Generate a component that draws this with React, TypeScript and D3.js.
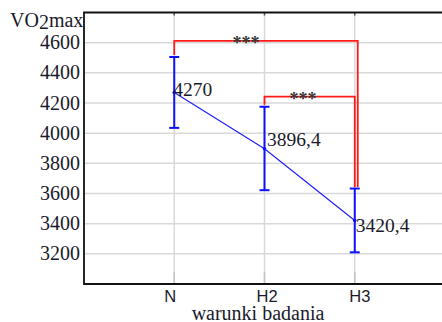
import * as d3 from "d3";
import { useEffect, useRef } from "react";

const categories = ["N", "H2", "H3"];
const means = [4270, 3896.4, 3420.4];
const errLow = [4035, 3622, 3210];
const errHigh = [4505, 4175, 3633];
const meanLabels = ["4270", "3896,4", "3420,4"];
const yTicks = [3200, 3400, 3600, 3800, 4000, 4200, 4400, 4600];
// significance brackets
const brackets = [
  { from: 0, to: 2, level: 4612, label: "***" },
  { from: 1, to: 2, level: 4242, label: "***" },
];

// layout nudges (pixels), not data
const labelDy = [3.5, -3, 11];
const labelDx = [-1, 2.5, 1];
const catDx = [-10, -8, -5.5];
const legOffset = [3, 0];
const starX = [246, 303];

export default function App() {
  const svgRef = useRef<SVGSVGElement>(null);
  const width = 442;
  const height = 322;

  useEffect(() => {
    if (!svgRef.current) return;
    const svg = d3.select(svgRef.current);
    svg.selectAll("*").remove();

    const left = 84;
    const right = 445;
    const top = 12.5;
    const bottom = 284;
    const serif = "'Liberation Serif', 'Times New Roman', serif";

    const x = d3.scaleLinear().domain([0, 4]).range([left, right]);
    const y = d3.scaleLinear().domain([3000, 4800]).range([bottom, top]);
    const xi = (i: number) => x(i + 1);

    const g = svg.append("g");

    // grid
    g.selectAll(".hgrid")
      .data(yTicks)
      .enter()
      .append("line")
      .attr("x1", left)
      .attr("x2", right)
      .attr("y1", (d) => y(d))
      .attr("y2", (d) => y(d))
      .style("stroke", "#d9d9d9")
      .style("stroke-width", 1.5);

    g.selectAll(".vgrid")
      .data(categories)
      .enter()
      .append("line")
      .attr("x1", (_, i) => xi(i))
      .attr("x2", (_, i) => xi(i))
      .attr("y1", top)
      .attr("y2", bottom)
      .style("stroke", "#d9d9d9")
      .style("stroke-width", 1.5);

    // small ticks at bottom
    g.selectAll(".btick")
      .data(categories)
      .enter()
      .append("line")
      .attr("x1", (_, i) => xi(i))
      .attr("x2", (_, i) => xi(i))
      .attr("y1", bottom - 12)
      .attr("y2", bottom)
      .style("stroke", "#c4c4c4")
      .style("stroke-width", 1.5);

    // top ticks
    g.selectAll(".ttick")
      .data(categories)
      .enter()
      .append("line")
      .attr("x1", (_, i) => xi(i))
      .attr("x2", (_, i) => xi(i))
      .attr("y1", top)
      .attr("y2", top + 3)
      .style("stroke", "#555")
      .style("stroke-width", 1.5);

    // frame
    g.append("path")
      .attr("d", `M${right},${top}H${left}V${bottom}H${right}`)
      .style("fill", "none")
      .style("stroke", "#111")
      .style("stroke-width", 1.8);

    // y tick labels
    g.selectAll(".ylab")
      .data(yTicks)
      .enter()
      .append("text")
      .attr("x", 80)
      .attr("y", (d) => y(d) + 6.5)
      .attr("text-anchor", "end")
      .style("font-family", serif)
      .style("font-size", "20px")
      .style("fill", "#1a1a2a")
      .text((d) => d);

    // y axis title
    const yt = g
      .append("text")
      .attr("x", 10)
      .attr("y", 26.5)
      .style("font-family", serif)
      .style("font-size", "20px")
      .style("fill", "#1a1a2a");
    yt.append("tspan").text("VO");
    yt.append("tspan").attr("dy", 2.5).text("2");
    yt.append("tspan").attr("dy", -2.5).text("max");

    // x tick labels
    g.selectAll(".xlab")
      .data(categories)
      .enter()
      .append("text")
      .attr("x", (_, i) => xi(i) + catDx[i])
      .attr("y", 301.5)
      .style("font-family", "'Liberation Sans', Arial, sans-serif")
      .style("font-size", "16.5px")
      .style("fill", "#1a1a2a")
      .text((d) => d);

    g.append("text")
      .attr("x", 258)
      .attr("y", 319.5)
      .attr("text-anchor", "middle")
      .style("font-family", serif)
      .style("font-size", "20px")
      .style("fill", "#1a1a2a")
      .text("warunki badania");

    // significance brackets
    brackets.forEach((b, k) => {
      const x1 = xi(b.from);
      const x2 = xi(b.to) + legOffset[k];
      g.append("path")
        .attr(
          "d",
          `M${x1},${y(errHigh[b.from]) - 2}V${y(b.level)}H${x2}V${y(errHigh[b.to]) - 1.5}`
        )
        .style("fill", "none")
        .style("stroke", "#ff1a1a")
        .style("stroke-width", 1.8);

      g.append("text")
        .attr("x", starX[k])
        .attr("y", y(b.level) + 8)
        .attr("text-anchor", "middle")
        .style("font-family", serif)
        .style("font-size", "18px")
        .style("font-weight", "bold")
        .style("fill", "#333")
        .text(b.label);
    });

    // mean line
    const line = d3
      .line<number>()
      .x((_, i) => xi(i))
      .y((d) => y(d));
    g.append("path")
      .datum(means)
      .attr("d", line)
      .style("fill", "none")
      .style("stroke", "#1f1fff")
      .style("stroke-width", 1.2);

    // error bars
    categories.forEach((_, i) => {
      const cx = xi(i);
      g.append("line")
        .attr("x1", cx)
        .attr("x2", cx)
        .attr("y1", y(errLow[i]))
        .attr("y2", y(errHigh[i]))
        .style("stroke", "#1010ff")
        .style("stroke-width", 2);
      [errLow[i], errHigh[i]].forEach((v) => {
        g.append("line")
          .attr("x1", cx - 5)
          .attr("x2", cx + 5)
          .attr("y1", y(v))
          .attr("y2", y(v))
          .style("stroke", "#1010ff")
          .style("stroke-width", 2);
      });
      g.append("circle")
        .attr("cx", cx)
        .attr("cy", y(means[i]))
        .attr("r", 1.8)
        .style("fill", "#1010ff");
    });

    // mean labels
    g.selectAll(".mlab")
      .data(meanLabels)
      .enter()
      .append("text")
      .attr("x", (_, i) => xi(i) + labelDx[i])
      .attr("y", (_, i) => y(means[i]) + labelDy[i])
      .style("font-family", serif)
      .style("font-size", "19.5px")
      .style("fill", "#1a1a2a")
      .text((d) => d);
  }, []);

  return (
    <div style={{ position: "absolute", left: 0, top: 0 }}>
      <svg
        ref={svgRef}
        width={width}
        height={height}
        style={{ display: "block", background: "#fff" }}
      />
    </div>
  );
}
